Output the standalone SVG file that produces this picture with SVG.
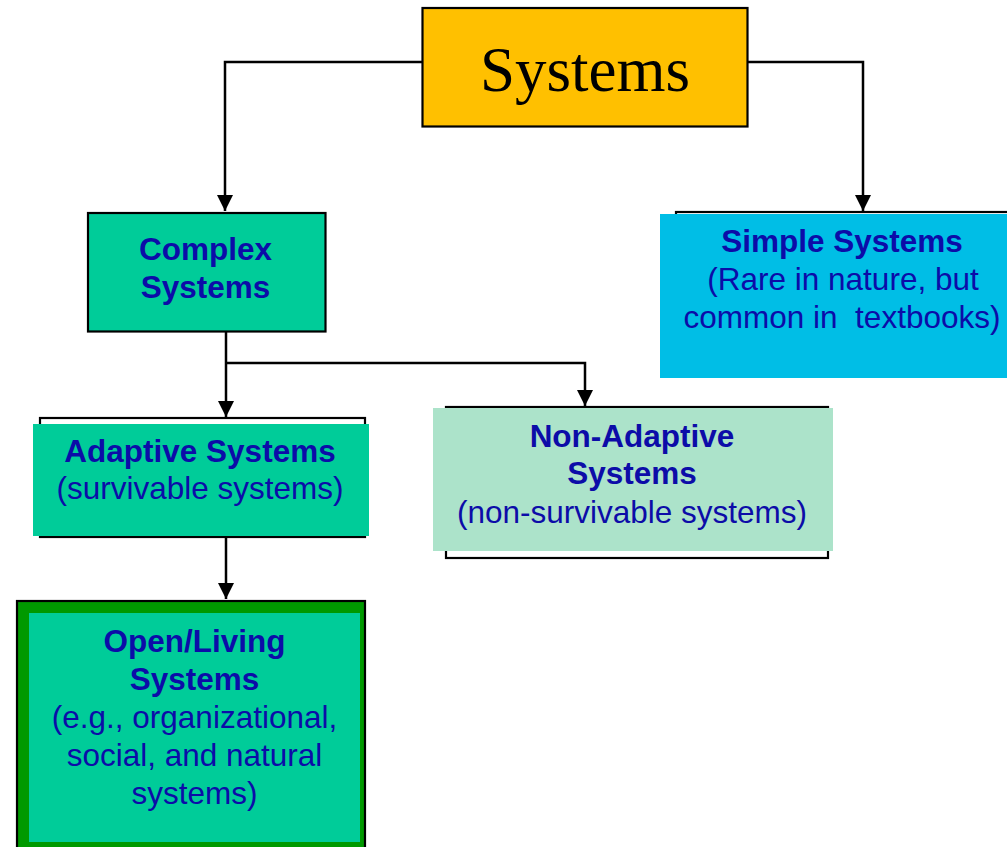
<svg xmlns="http://www.w3.org/2000/svg" width="1007" height="847" viewBox="0 0 1007 847">
<style>
.t{font-family:"Liberation Sans",Arial,sans-serif;fill:#0C0CA8;text-anchor:middle;font-size:31.5px}
.b{font-weight:bold}
.ol{fill:none;stroke:#000;stroke-width:2.2}
.cn{fill:none;stroke:#000;stroke-width:2.5}
</style>
<defs>
<marker id="ah" markerUnits="userSpaceOnUse" markerWidth="16" markerHeight="16" refX="16" refY="8" orient="auto">
<path d="M0,0 L16,8 L0,16 z" fill="#000"/>
</marker>
</defs>
<rect width="1007" height="847" fill="#fff"/>
<g id="connectors">
<path class="cn" d="M422,62 H225 V211" marker-end="url(#ah)"/>
<path class="cn" d="M748,62 H863 V211" marker-end="url(#ah)"/>
<path class="cn" d="M226,332 V417" marker-end="url(#ah)"/>
<path class="cn" d="M226,363 H585 V406" marker-end="url(#ah)"/>
<path class="cn" d="M226,537 V599" marker-end="url(#ah)"/>
</g>
<g id="systems">
<rect x="422.5" y="8" width="325" height="118.5" fill="#FFC000" stroke="#000" stroke-width="2.2"/>
<text x="585" y="91" font-family="'Liberation Serif','Times New Roman',serif" font-size="63" fill="#000" text-anchor="middle">Systems</text>
</g>
<g id="complex">
<rect x="88" y="213" width="237.5" height="118.5" fill="#00CC99" stroke="#000" stroke-width="2.2"/>
<text class="t b" x="205.5" y="260">Complex</text>
<text class="t b" x="205.5" y="298">Systems</text>
</g>
<g id="simple">
<rect class="ol" x="676" y="212" width="400" height="150"/>
<rect x="660" y="214" width="360" height="164" fill="#00BEE6"/>
<text class="t b" x="842" y="252">Simple Systems</text>
<text class="t" x="843" y="290">(Rare in nature, but</text>
<text class="t" x="842" y="328" xml:space="preserve">common in  textbooks)</text>
</g>
<g id="adaptive">
<rect class="ol" x="40" y="418" width="325" height="119"/>
<rect x="33" y="424" width="336" height="112" fill="#00CC99"/>
<text class="t b" x="200" y="462">Adaptive Systems</text>
<text class="t" x="200" y="499">(survivable systems)</text>
</g>
<g id="nonadaptive">
<rect class="ol" x="446" y="407" width="382" height="151"/>
<rect x="433" y="408" width="400" height="143" fill="#ACE3CA"/>
<text class="t b" x="632" y="447">Non-Adaptive</text>
<text class="t b" x="632" y="484">Systems</text>
<text class="t" x="632" y="523">(non-survivable systems)</text>
</g>
<g id="openliving">
<rect x="17" y="601" width="348" height="260" fill="#009900" stroke="#000" stroke-width="2.2"/>
<rect x="29" y="613" width="331" height="229" fill="#00CC99"/>
<text class="t b" x="194.5" y="652">Open/Living</text>
<text class="t b" x="194.5" y="690">Systems</text>
<text class="t" x="194.5" y="728">(e.g., organizational,</text>
<text class="t" x="194.5" y="766">social, and natural</text>
<text class="t" x="194.5" y="804">systems)</text>
</g>
</svg>
